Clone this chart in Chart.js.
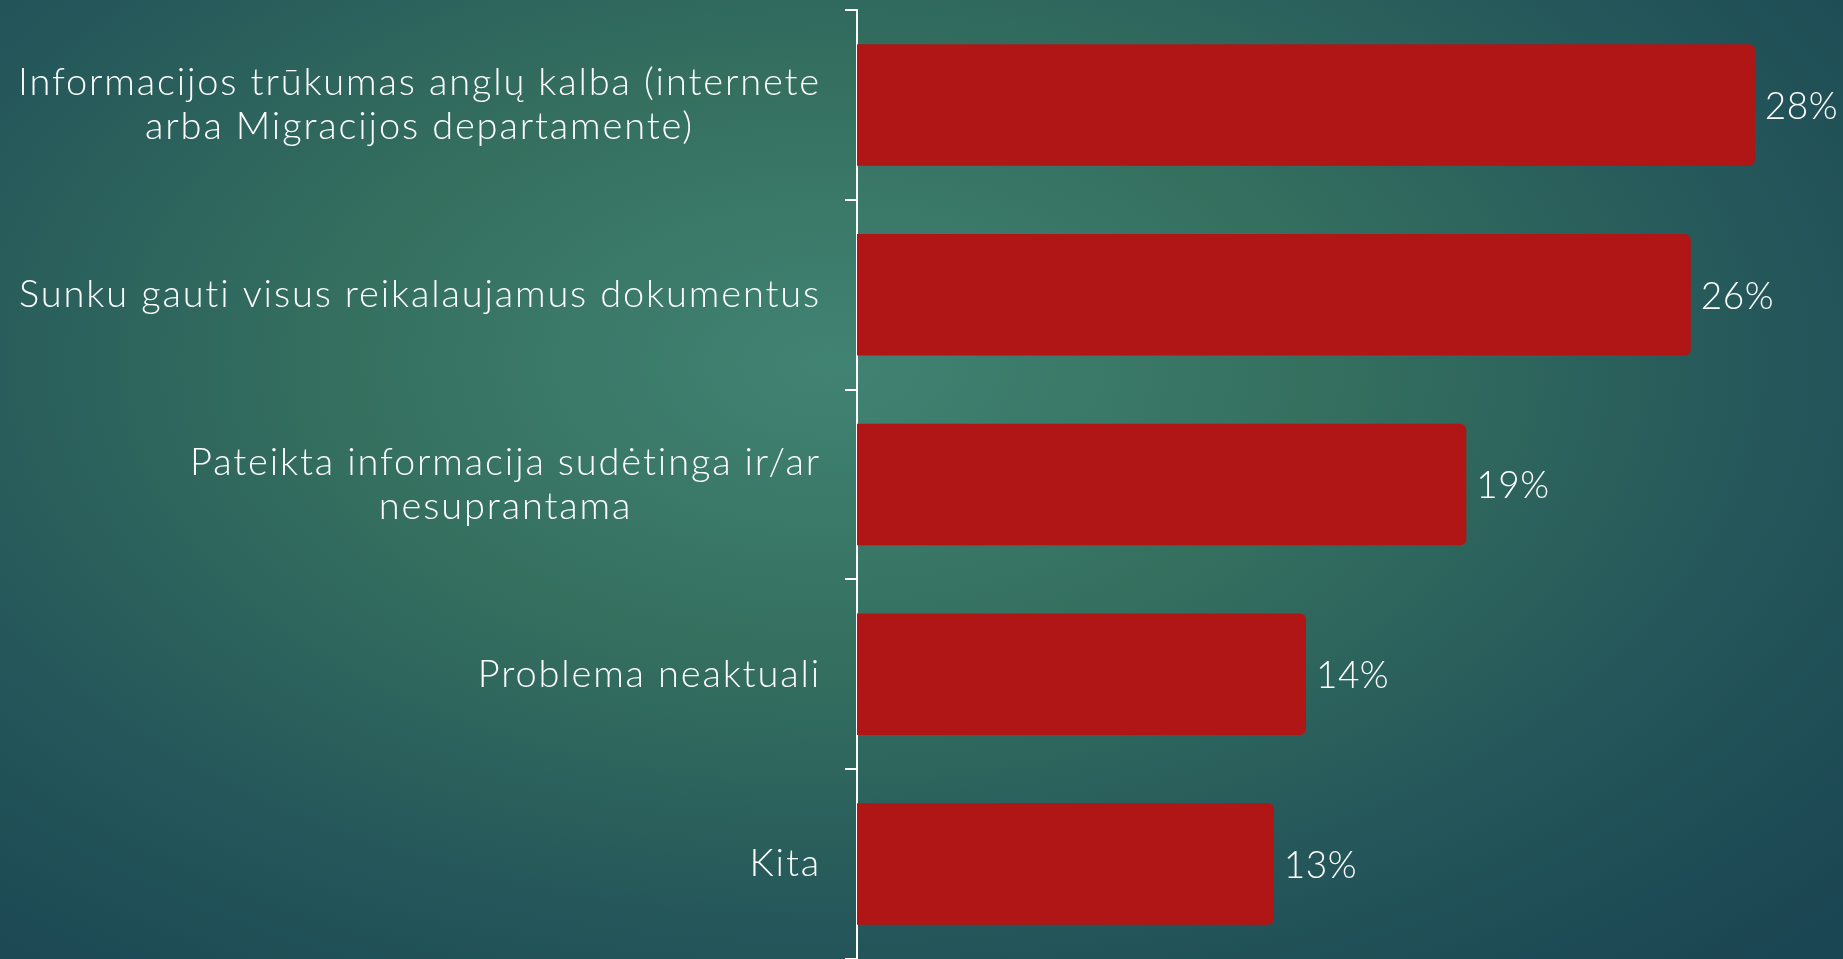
<!DOCTYPE html>
<html>
<head>
<meta charset="utf-8">
<script src="https://cdn.jsdelivr.net/npm/chart.js@4"></script>
<style>
  html, body {
    margin: 0;
    padding: 0;
    width: 1843px;
    height: 959px;
    overflow: hidden;
    background: radial-gradient(ellipse 75% 85% at 45% 38%, #418373 0%, #35705f 35%, #24565a 70%, #1a4552 100%);
  }
  #wrap {
    position: relative;
    width: 1843px;
    height: 959px;
  }
</style>
</head>
<body>
<div id="wrap"><canvas id="chart"></canvas></div>
<script>
const categories = [
  ["Informacijos trūkumas anglų kalba (internete", "arba Migracijos departamente)"],
  ["Sunku gauti visus reikalaujamus dokumentus"],
  ["Pateikta informacija sudėtinga ir/ar", "nesuprantama"],
  ["Problema neaktuali"],
  ["Kita"],
];
const values = [28, 26, 19, 14, 13];
const valueLabels = ["28%", "26%", "19%", "14%", "13%"];

const FONT = "Lato, 'Noto Sans', sans-serif";

// category labels: each block centered, right edge next to the axis
const categoryLabels = {
  id: "categoryLabels",
  afterDraw(chart) {
    const ctx = chart.ctx;
    const y = chart.scales.y;
    const right = y.right - 36;
    ctx.save();
    ctx.font = "300 38px " + FONT;
    ctx.letterSpacing = "1.85px";
    ctx.fillStyle = "#ffffff";
    ctx.textAlign = "center";
    ctx.textBaseline = "middle";
    const lineH = 44;
    categories.forEach((lines, i) => {
      const widest = Math.max(...lines.map((l) => ctx.measureText(l).width));
      const cx = right - widest / 2;
      const cy = y.getPixelForTick(i);
      const top = cy - ((lines.length - 1) * lineH) / 2;
      lines.forEach((l, j) => ctx.fillText(l, cx, top + j * lineH));
    });
    ctx.restore();
  },
};

// percent labels at the end of each bar
const valueText = {
  id: "valueText",
  afterDatasetsDraw(chart) {
    const ctx = chart.ctx;
    const meta = chart.getDatasetMeta(0);
    ctx.save();
    ctx.font = "300 37px " + FONT;
    ctx.letterSpacing = "0.5px";
    ctx.fillStyle = "#ffffff";
    ctx.textAlign = "left";
    ctx.textBaseline = "middle";
    meta.data.forEach((bar, i) => {
      ctx.fillText(valueLabels[i], bar.x + 10, bar.y + 2);
    });
    ctx.restore();
  },
};

new Chart(document.getElementById("chart"), {
  type: "bar",
  data: {
    labels: categories.map((c) => c.join(" ")),
    datasets: [
      {
        data: values,
        backgroundColor: "#b01615",
        borderRadius: 6,
        barPercentage: 0.64,
        categoryPercentage: 1,
      },
    ],
  },
  options: {
    indexAxis: "y",
    responsive: true,
    maintainAspectRatio: false,
    animation: false,
    layout: { padding: { top: 10, right: 24, bottom: 0, left: 0 } },
    plugins: {
      legend: { display: false },
      tooltip: { enabled: false },
    },
    scales: {
      x: {
        display: false,
        min: 0,
        max: 30,
      },
      y: {
        afterFit(scale) {
          scale.width = 857;
        },
        border: { display: true, color: "#ffffff", width: 2 },
        grid: {
          display: true,
          offset: true,
          drawOnChartArea: false,
          drawTicks: true,
          tickLength: 12,
          color: "#ffffff",
          lineWidth: 2,
        },
        ticks: { display: false },
      },
    },
  },
  plugins: [categoryLabels, valueText],
});
</script>
</body>
</html>
